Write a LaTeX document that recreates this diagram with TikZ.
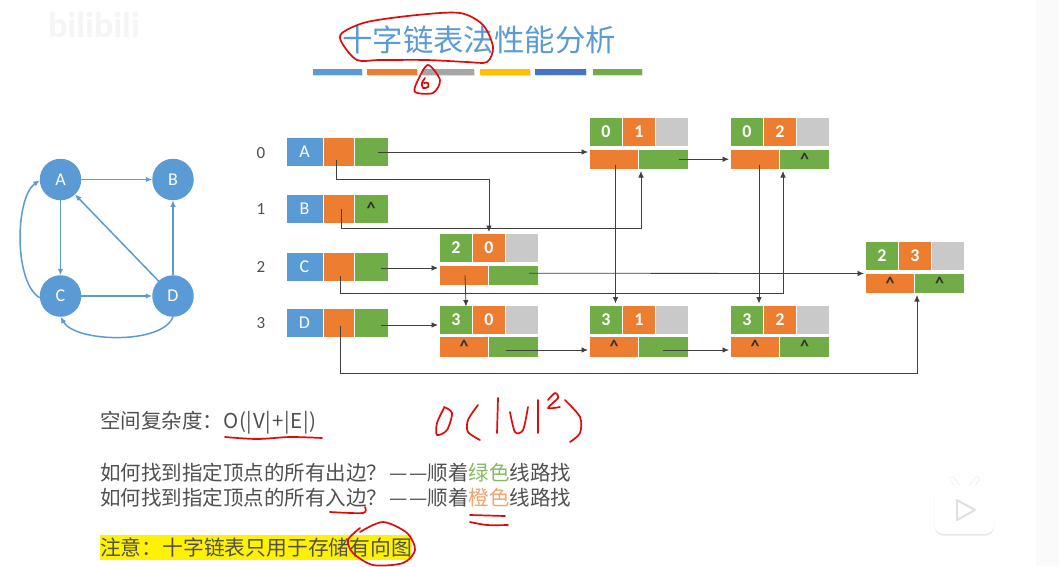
\documentclass[tikz,border=0pt]{standalone}
\usepackage{xcolor}
\usepackage{fontspec}
\setmainfont{Carlito}
\newfontfamily\cjk{Noto Sans CJK SC}
\newfontfamily\cjkwide[LetterSpace=4]{Noto Sans CJK SC}
\usetikzlibrary{arrows.meta, positioning, shadows}
\definecolor{NodeBlue}{HTML}{5B9BD5}
\definecolor{LinkOrange}{HTML}{ED7D31}
\definecolor{LinkGreen}{HTML}{70AD47}
\definecolor{InfoGrey}{HTML}{C9C9C9}
\definecolor{LineGrey}{HTML}{404040}
\definecolor{TextGrey}{HTML}{505050}
\definecolor{BarGold}{HTML}{FFC000}
\definecolor{BarBlue}{HTML}{4472C4}
\definecolor{PenRed}{HTML}{E00A0A}
\newcommand{\nilmark}{\raisebox{-6pt}{\textbf{\textasciicircum}}}
\newcommand{\wcolon}{\symbol{"FF1A}}
\newcommand{\wquery}{\symbol{"FF1F}}
\newcommand{\gapdash}{\kern3pt—\kern1pt—}

\begin{document}
\begin{tikzpicture}[x=1pt, y=-1pt, >={Latex[length=6.5pt,width=5.5pt]}, every node/.style={inner sep=0pt, outer sep=0pt}]
    \tikzstyle{hdata} = [rectangle, fill=NodeBlue, text=white, minimum width=36pt, minimum height=28pt, font=\fontsize{18}{20}\selectfont]
    \tikzstyle{hin} = [rectangle, fill=LinkOrange, text=TextGrey!60!black, minimum width=30pt, minimum height=28pt, font=\fontsize{18}{20}\selectfont]
    \tikzstyle{hout} = [rectangle, fill=LinkGreen, text=TextGrey!60!black, minimum width=33pt, minimum height=28pt, font=\fontsize{18}{20}\selectfont]
    \tikzstyle{tailc} = [rectangle, fill=LinkGreen, text=white, minimum width=32pt, minimum height=28pt, font=\fontsize{18}{20}\selectfont\bfseries]
    \tikzstyle{headc} = [rectangle, fill=LinkOrange, text=white, minimum width=32pt, minimum height=28pt, font=\fontsize{18}{20}\selectfont\bfseries]
    \tikzstyle{infoc} = [rectangle, fill=InfoGrey, minimum width=32pt, minimum height=28pt]
    \tikzstyle{hlink} = [rectangle, fill=LinkOrange, text=TextGrey!60!black, minimum width=48pt, minimum height=19.5pt, font=\fontsize{18}{20}\selectfont]
    \tikzstyle{tlink} = [rectangle, fill=LinkGreen, text=TextGrey!60!black, minimum width=49pt, minimum height=19.5pt, font=\fontsize{18}{20}\selectfont]
    \tikzstyle{vert} = [circle, fill=NodeBlue, text=white, minimum size=41.5pt, font=\fontsize{18}{20}\selectfont]
    \tikzstyle{edge} = [draw, ->, NodeBlue, line width=1.5pt]
    \tikzstyle{line} = [draw, ->, LineGrey, line width=0.8pt, shorten >=2pt]
    \tikzstyle{idx} = [text=TextGrey, font=\fontsize{17}{20}\selectfont]
    \tikzstyle{bar} = [rectangle, minimum height=6pt, drop shadow={shadow xshift=0.5pt, shadow yshift=-1pt, opacity=0.25}]
    \tikzstyle{txt} = [anchor=west, text=TextGrey, font=\cjk\fontsize{20.5}{24}\selectfont]
    \tikzstyle{redpen} = [draw, PenRed, line width=1.7pt, line cap=round, line join=round]

    \useasboundingbox (0,0) rectangle (1059,566);
    \fill[white] (0,0) rectangle (1059,566);
    \fill[black!2] (1036,0) rectangle (1059,566);

    % watermark and player button
    \node[text=black!4, font=\fontsize{36}{38}\selectfont\bfseries] (mark) at (94,25) {bilibili};
    \draw[black!10, line width=5pt, line cap=round] (952,479) -- (958,487) (977,479) -- (971,487);
    \fill[white, drop shadow={shadow xshift=0pt, shadow yshift=-1.5pt, opacity=0.2}, rounded corners=9pt] (934.5,485) rectangle (994,534);
    \draw[white, line width=4pt, line cap=round] (952,479) -- (958,487) (977,479) -- (971,487);
    \draw[black!12, fill=white, line width=2pt, line join=round] (957,500) -- (957,520) -- (975,510) -- cycle;

    % title
    \node[text=NodeBlue, font=\cjk\fontsize{30.4}{34}\selectfont] (title) at (479,40) {十字链表法性能分析};
    \node[bar, fill=NodeBlue, minimum width=49pt] (bar1) at (337.5,72) {};
    \node[bar, fill=LinkOrange, minimum width=50pt, right=5pt of bar1] (bar2) {};
    \node[bar, fill=black!35, minimum width=52pt, right=5pt of bar2] (bar3) {};
    \node[bar, fill=BarGold, minimum width=50pt, right=6pt of bar3] (bar4) {};
    \node[bar, fill=BarBlue, minimum width=51pt, right=5pt of bar4] (bar5) {};
    \node[bar, fill=LinkGreen, minimum width=49pt, right=7pt of bar5] (bar6) {};

    % graph
    \node[vert] (vA) at (60.5,179.5) {A};
    \node[vert] (vB) at (173,179.5) {B};
    \node[vert] (vC) at (60.5,296) {C};
    \node[vert] (vD) at (173,296) {D};
    \path[edge] (vA) -- (vB);
    \path[edge] (vA) -- (vC);
    \path[edge] (vC) -- (vD);
    \path[edge] (vD) -- (vB);
    \path[edge] (vD) -- (vA);
    \path[edge] (vC.185) to[out=150, in=215, looseness=0.66] (vA.182);
    \path[edge] (vD.south) to[out=-110, in=-60, looseness=0.68] (vC.south);

    % vertex table
    \node[idx] (i0) at (261,153) {0};
    \node[idx] (i1) at (261,209) {1};
    \node[idx] (i2) at (261,267) {2};
    \node[idx] (i3) at (261,323) {3};
    \node[hdata] (Ad) at (304.5,152) {A};
    \node[hin, right=1pt of Ad] (Ain) {};
    \node[hout, right=1pt of Ain] (Aout) {};
    \node[hdata] (Bd) at (304.5,208.5) {B};
    \node[hin, right=1pt of Bd] (Bin) {};
    \node[hout, right=1pt of Bin] (Bout) {\nilmark};
    \node[hdata] (Cd) at (304.5,266.5) {C};
    \node[hin, right=1pt of Cd] (Cin) {};
    \node[hout, right=1pt of Cin] (Cout) {};
    \node[hdata] (Dd) at (304.5,322.5) {D};
    \node[hin, right=1pt of Dd] (Din) {};
    \node[hout, right=1pt of Din] (Dout) {};

    % arc nodes
    \node[tailc] (t01) at (606,132) {0};
    \node[headc, right=1pt of t01] (h01) {1};
    \node[infoc, right=1pt of h01] (g01) {};
    \node[hlink, below=3.5pt of t01.south west, anchor=north west] (hl01) {};
    \node[tlink, right=1pt of hl01] (tl01) {};

    \node[tailc] (t02) at (747,132) {0};
    \node[headc, right=1pt of t02] (h02) {2};
    \node[infoc, right=1pt of h02] (g02) {};
    \node[hlink, below=3.5pt of t02.south west, anchor=north west] (hl02) {};
    \node[tlink, right=1pt of hl02] (tl02) {\nilmark};

    \node[tailc] (t20) at (456,248) {2};
    \node[headc, right=1pt of t20] (h20) {0};
    \node[infoc, right=1pt of h20] (g20) {};
    \node[hlink, below=3.5pt of t20.south west, anchor=north west] (hl20) {};
    \node[tlink, right=1pt of hl20] (tl20) {};

    \node[tailc] (t23) at (882,256) {2};
    \node[headc, right=1pt of t23] (h23) {3};
    \node[infoc, right=1pt of h23] (g23) {};
    \node[hlink, below=3.5pt of t23.south west, anchor=north west] (hl23) {\nilmark};
    \node[tlink, right=1pt of hl23] (tl23) {\nilmark};

    \node[tailc] (t30) at (456,319.5) {3};
    \node[headc, right=1pt of t30] (h30) {0};
    \node[infoc, right=1pt of h30] (g30) {};
    \node[hlink, below=3.5pt of t30.south west, anchor=north west] (hl30) {\nilmark};
    \node[tlink, right=1pt of hl30] (tl30) {};

    \node[tailc] (t31) at (606,319.5) {3};
    \node[headc, right=1pt of t31] (h31) {1};
    \node[infoc, right=1pt of h31] (g31) {};
    \node[hlink, below=3.5pt of t31.south west, anchor=north west] (hl31) {\nilmark};
    \node[tlink, right=1pt of hl31] (tl31) {};

    \node[tailc] (t32) at (747,319.5) {3};
    \node[headc, right=1pt of t32] (h32) {2};
    \node[infoc, right=1pt of h32] (g32) {};
    \node[hlink, below=3.5pt of t32.south west, anchor=north west] (hl32) {\nilmark};
    \node[tlink, right=1pt of hl32] (tl32) {\nilmark};

    % links
    \path[line] ([xshift=7pt]Aout.center) -- (Aout.center -| hl01.west);
    \path[line] ([xshift=-2pt,yshift=-8pt]Ain.center) -- ++(0,19.5) -| (h20.north);
    \path[line] ([xshift=3pt]Bin.center) -- ++(0,19.5) -| ([xshift=2pt]tl01.south west);
    \path[line] ([xshift=10pt,yshift=-1.5pt]Cout.center) -- ([yshift=-2.5pt]hl20.north west);
    \path[line] ([xshift=2pt,yshift=-9pt]Cin.center) -- ++(0,18) -| ([xshift=3pt]tl02.south west);
    \path[line] ([xshift=10pt,yshift=-2.5pt]Dout.center) -- ([yshift=-5.5pt]t30.west);
    \path[line] ([xshift=2pt,yshift=-3pt]Din.center) -- ++(0,47.5) -| ([xshift=2pt]tl23.south west);
    \path[line, shorten >=-1pt] ([xshift=1pt]hl20.center) -- ([xshift=10pt]t30.north);
    \path[line] ([xshift=-9pt,yshift=2pt]tl20.east) -- (hl23.north west);
    \path[line] ([xshift=-9pt]tl01.east) -- (hl02.west);
    \path[line] ([xshift=1.5pt,yshift=-6pt]hl01.center) -- ([xshift=9.5pt]t31.north);
    \path[line] ([xshift=4pt,yshift=-6pt]hl02.center) -- ([xshift=12pt]t32.north);
    \path[line] ([xshift=-8pt,yshift=-3.25pt]tl30.center) -- ([yshift=-3.25pt]hl31.west);
    \path[line] ([xshift=-25pt,yshift=-3.25pt]tl31.east) -- ([yshift=-3.25pt]hl32.west);

    % notes
    \node[txt] (space) at (100,423) {空间复杂度\wcolon{\cjkwide\fontsize{20.5}{24}\selectfont O(|V|+|E|)}};
    \node[txt] (outq) at (100,473) {如何找到指定顶点的所有出边\wquery{}\gapdash 顺着\textcolor{LinkGreen!85!white}{绿色}线路找};
    \node[txt] (inq) at (100,498) {如何找到指定顶点的所有入边\wquery{}\gapdash 顺着\textcolor{LinkOrange!70!white}{橙色}线路找};
    \node[txt, fill=yellow, minimum height=25pt, font=\cjk\fontsize{20.8}{24}\selectfont] (note) at (100,547.5) {注意\wcolon{}十字链表只用于存储有向图};

    % handwriting
    \draw[redpen] plot[smooth cycle] coordinates {(342,33) (367,22) (417,15) (460,13) (483,25) (493,47) (487,62) (467,62) (427,60) (380,60) (357,60) (342,43)};
    \draw[redpen] plot[smooth cycle] coordinates {(428,65) (440,80) (433,93) (415,92) (418,80)};
    \draw[redpen] plot[smooth] coordinates {(425,78) (422,83) (423,88) (428,87) (428,83) (424,83)};
    \draw[redpen] plot[smooth] coordinates {(444,408) (437,423) (437,435) (447,430) (452,413) (444,407)};
    \draw[redpen] plot[smooth] coordinates {(478,405) (468,420) (468,432) (480,440)};
    \draw[redpen] (498,398) -- (497,433);
    \draw[redpen] plot[smooth] coordinates {(510,412) (515,432) (523,430) (528,407)};
    \draw[redpen] (538,400) -- (538,433);
    \draw[redpen] plot[smooth] coordinates {(548,400) (555,393) (558,398) (548,408) (560,407)};
    \draw[redpen] plot[smooth] coordinates {(565,400) (580,417) (580,433) (570,442)};
    \draw[redpen] plot[smooth] coordinates {(225,437) (257,439) (290,437) (322,438)};
    \draw[redpen] plot[smooth] coordinates {(330,512) (363,513) (365,507)};
    \draw[redpen] plot[smooth] coordinates {(470,515) (505,516)};
    \draw[redpen] plot[smooth] coordinates {(470,522) (487,525) (508,525)};
    \draw[redpen] plot[smooth] coordinates {(360,532) (383,522) (407,533) (415,550) (403,563) (373,565) (353,553) (348,540) (360,528)};
\end{tikzpicture}
\end{document}
